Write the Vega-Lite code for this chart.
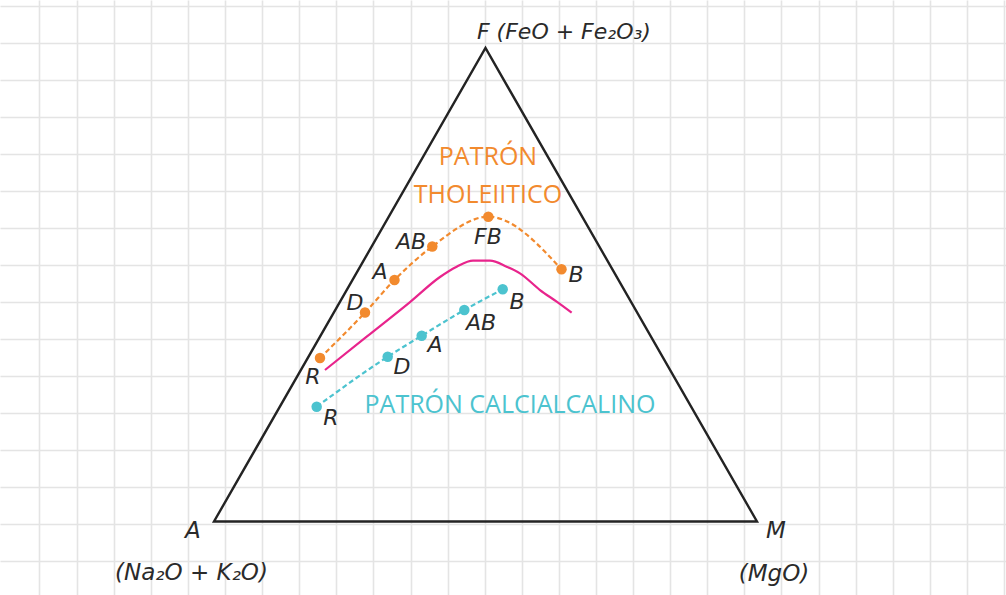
{
  "$schema": "https://vega.github.io/schema/vega-lite/v6.json",
  "width": 1006,
  "height": 595,
  "autosize": {"type": "fit", "contains": "padding"},
  "padding": 0,
  "background": "#ffffff",
  "config": {
    "view": {"stroke": null},
    "axis": {
      "grid": true,
      "gridColor": "#e4e4e4",
      "gridWidth": 1.6,
      "labels": false,
      "ticks": false,
      "domain": false,
      "title": null
    },
    "text": {"font": "DejaVu Sans", "baseline": "middle", "align": "center"}
  },
  "datasets": {
    "triangulo": [
      {"u": 50, "v": 0, "o": 1},
      {"u": 0, "v": 0, "o": 2},
      {"u": 50, "v": 86.6, "o": 3},
      {"u": 100, "v": 0, "o": 4},
      {"u": 50, "v": 0, "o": 5}
    ],
    "tendencias": [
      {"serie": "Toleítico", "etapa": "R", "u": 19.52, "v": 29.90},
      {"serie": "Toleítico", "etapa": "D", "u": 27.81, "v": 38.22},
      {"serie": "Toleítico", "etapa": "A", "u": 33.24, "v": 44.17},
      {"serie": "Toleítico", "etapa": "AB", "u": 40.20, "v": 50.30},
      {"serie": "Toleítico", "etapa": "FB", "u": 50.52, "v": 55.75},
      {"serie": "Toleítico", "etapa": "B", "u": 64.00, "v": 46.13},
      {"serie": "Calcoalcalino", "etapa": "R", "u": 18.91, "v": 21.00},
      {"serie": "Calcoalcalino", "etapa": "D", "u": 31.99, "v": 30.14},
      {"serie": "Calcoalcalino", "etapa": "A", "u": 38.25, "v": 33.98},
      {"serie": "Calcoalcalino", "etapa": "AB", "u": 46.10, "v": 38.68},
      {"serie": "Calcoalcalino", "etapa": "B", "u": 53.17, "v": 42.47}
    ],
    "rotulos": [
      {"serie": "Toleítico", "texto": "R", "u": 18.23, "v": 26.40},
      {"serie": "Toleítico", "texto": "D", "u": 25.97, "v": 39.96},
      {"serie": "Toleítico", "texto": "A", "u": 30.57, "v": 45.63},
      {"serie": "Toleítico", "texto": "AB", "u": 36.28, "v": 51.12},
      {"serie": "Toleítico", "texto": "FB", "u": 50.46, "v": 52.03},
      {"serie": "Toleítico", "texto": "B", "u": 66.67, "v": 45.08},
      {"serie": "Calcoalcalino", "texto": "R", "u": 21.55, "v": 18.93},
      {"serie": "Calcoalcalino", "texto": "D", "u": 34.62, "v": 28.26},
      {"serie": "Calcoalcalino", "texto": "A", "u": 40.70, "v": 32.28},
      {"serie": "Calcoalcalino", "texto": "AB", "u": 49.17, "v": 36.30},
      {"serie": "Calcoalcalino", "texto": "B", "u": 55.80, "v": 40.14}
    ],
    "limite": [
      {"u": 20.44, "v": 27.71},
      {"u": 28.18, "v": 33.85},
      {"u": 36.10, "v": 40.14},
      {"u": 41.62, "v": 44.72},
      {"u": 44.70, "v": 46.60},
      {"u": 47.70, "v": 47.70},
      {"u": 50.83, "v": 47.70},
      {"u": 53.90, "v": 46.60},
      {"u": 56.35, "v": 45.39},
      {"u": 60.04, "v": 42.34},
      {"u": 63.11, "v": 40.20},
      {"u": 65.87, "v": 38.19}
    ],
    "titulos": [
      {"serie": "Toleítico", "texto": "PATRÓN", "u": 50.46, "v": 66.66},
      {"serie": "Toleítico", "texto": "THOLEIITICO", "u": 50.46, "v": 59.71},
      {"serie": "Calcoalcalino", "texto": "PATRÓN CALCIALCALINO", "u": 54.51, "v": 21.40}
    ],
    "vertices": [
      {"texto": "A", "u": -3.87, "v": -1.74},
      {"texto": "(Na₂O + K₂O)", "u": -4.14, "v": -9.42},
      {"texto": "M", "u": 103.5, "v": -1.74},
      {"texto": "(MgO)", "u": 103.13, "v": -9.60}
    ],
    "apice": [
      {"texto": "F (FeO + Fe₂O₃)", "u": 48.43, "v": 89.53}
    ]
  },
  "encoding": {
    "x": {
      "field": "u",
      "type": "quantitative",
      "scale": {"domain": [-39.41, 145.86], "nice": false, "zero": false},
      "axis": {
        "values": [-32.14, -25.30, -18.47, -11.64, -4.81, 2.03, 8.86, 15.69, 22.52, 29.36, 36.19, 43.02, 49.85, 56.69, 63.52, 70.35, 77.18, 84.01, 90.85, 97.68, 104.51, 111.34, 118.18, 125.01, 131.84, 138.67, 145.51]
      }
    },
    "y": {
      "field": "v",
      "type": "quantitative",
      "scale": {"domain": [-13.44, 95.38], "nice": false, "zero": false},
      "axis": {
        "values": [94.32, 87.55, 80.78, 74.02, 67.25, 60.48, 53.72, 46.95, 40.18, 33.41, 26.65, 19.88, 13.11, 6.35, -0.42, -7.19]
      }
    }
  },
  "layer": [
    {
      "data": {"name": "triangulo"},
      "mark": {"type": "line", "color": "#232323", "strokeWidth": 2.4, "strokeJoin": "miter"},
      "encoding": {"order": {"field": "o", "type": "quantitative"}}
    },
    {
      "data": {"name": "limite"},
      "mark": {"type": "line", "color": "#e8248c", "strokeWidth": 2.2, "interpolate": "monotone"},
      "encoding": {}
    },
    {
      "data": {"name": "tendencias"},
      "mark": {"type": "line", "strokeWidth": 2.2, "strokeDash": [5, 3], "interpolate": "monotone"},
      "encoding": {
        "color": {"field": "serie", "type": "nominal", "scale": {"domain": ["Toleítico", "Calcoalcalino"], "range": ["#f28a2e", "#4cc3cf"]}, "legend": null}
      }
    },
    {
      "data": {"name": "tendencias"},
      "mark": {"type": "circle", "size": 110, "opacity": 1},
      "encoding": {
        "color": {"field": "serie", "type": "nominal", "scale": {"domain": ["Toleítico", "Calcoalcalino"], "range": ["#f28a2e", "#4cc3cf"]}, "legend": null}
      }
    },
    {
      "data": {"name": "rotulos"},
      "mark": {"type": "text", "fontSize": 22, "fontStyle": "italic", "color": "#2a2a2a"},
      "encoding": {"text": {"field": "texto"}}
    },
    {
      "data": {"name": "titulos"},
      "mark": {"type": "text", "font": "Open Sans", "fontSize": 25, "fontWeight": 400},
      "encoding": {
        "text": {"field": "texto"},
        "color": {"field": "serie", "type": "nominal", "scale": {"domain": ["Toleítico", "Calcoalcalino"], "range": ["#f28a2e", "#4cc3cf"]}, "legend": null}
      }
    },
    {
      "data": {"name": "vertices"},
      "mark": {"type": "text", "fontSize": 23, "fontStyle": "italic", "color": "#2a2a2a"},
      "encoding": {"text": {"field": "texto"}}
    },
    {
      "data": {"name": "apice"},
      "mark": {"type": "text", "fontSize": 22, "fontStyle": "italic", "align": "left", "color": "#2a2a2a"},
      "encoding": {"text": {"field": "texto"}}
    }
  ]
}
